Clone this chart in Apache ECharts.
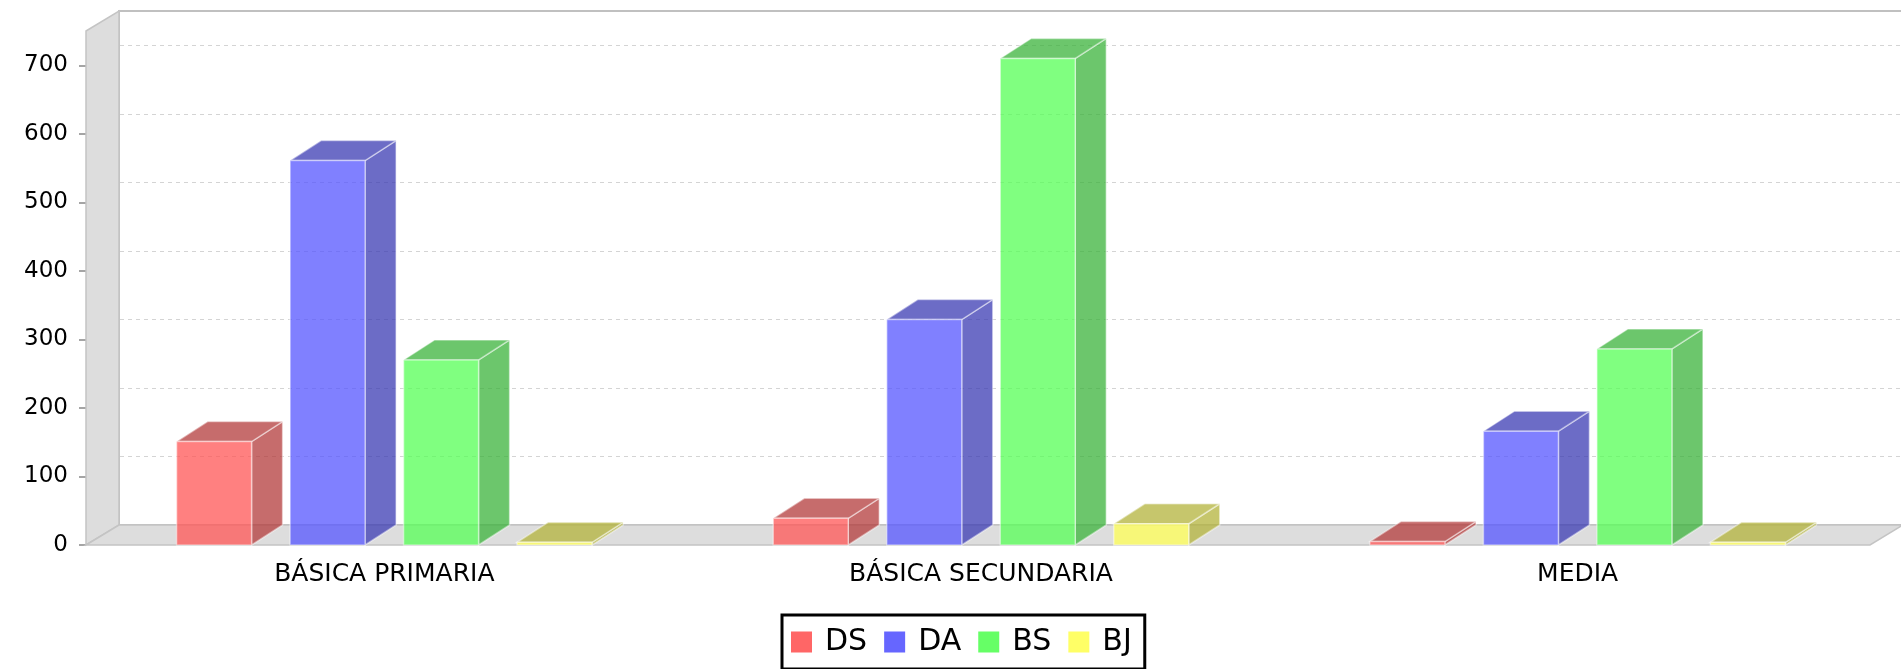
<!DOCTYPE html>
<html>
<head>
<meta charset="utf-8">
<script src="https://cdn.jsdelivr.net/npm/echarts@6/dist/echarts.min.js"></script>
<style>
  html, body { margin: 0; padding: 0; background: #ffffff; }
  #chart { width: 1901px; height: 669px; }
</style>
</head>
<body>
<div id="chart"></div>
<script>
// Levels and counts per group
const categories = ['BÁSICA PRIMARIA', 'BÁSICA SECUNDARIA', 'MEDIA'];
const seriesNames = ['DS', 'DA', 'BS', 'BJ'];
const dsValues = [151, 39, 5];
const daValues = [561, 329, 166];
const bsValues = [270, 710, 286];
const bjValues = [4, 31, 4];
const yTicks = [0, 100, 200, 300, 400, 500, 600, 700];
const yMax = 750;

// base RGB for each series (drawn with 0.75 alpha)
const baseColors = [[255, 85, 85], [85, 85, 255], [85, 255, 85], [255, 255, 85]];

// 3D geometry
const BAR_W = 75;
const BAR_GAP = 38.5;
const BAR_DX = 31, BAR_DY = -20;
const WALL_DX = 33, WALL_DY = -20;
const FLOOR_TRIM = 6;
const FONT = 'DejaVu Sans';

function rgba(c, a, k) {
  k = k || 1;
  return 'rgba(' + Math.round(c[0] * k) + ',' + Math.round(c[1] * k) + ',' + Math.round(c[2] * k) + ',' + a + ')';
}

function makeBarRenderer(s) {
  const col = baseColors[s];
  const face = rgba(col, 0.75);
  const dark = rgba(col, 0.75, 0.7);
  const edge = 'rgba(255,255,255,0.45)';
  return function (params, api) {
    const cat = api.value(0);
    const v = api.value(1);
    const top = api.coord([cat, v]);
    const base = api.coord([cat, 0]);
    const groupW = seriesNames.length * BAR_W + (seriesNames.length - 1) * BAR_GAP;
    const x0 = top[0] - groupW / 2 + s * (BAR_W + BAR_GAP);
    const x1 = x0 + BAR_W;
    const ty = top[1], by = base[1];
    return {
      type: 'group',
      children: [
        {
          type: 'polygon',
          shape: { points: [[x1, ty], [x1 + BAR_DX, ty + BAR_DY], [x1 + BAR_DX, by + BAR_DY], [x1, by]] },
          style: { fill: dark, stroke: edge, lineWidth: 1.5 }
        },
        {
          type: 'polygon',
          shape: { points: [[x0, ty], [x0 + BAR_DX, ty + BAR_DY], [x1 + BAR_DX, ty + BAR_DY], [x1, ty]] },
          style: { fill: dark, stroke: edge, lineWidth: 1.5 }
        },
        {
          type: 'rect',
          shape: { x: x0, y: ty, width: BAR_W, height: by - ty },
          style: { fill: face, stroke: edge, lineWidth: 1.5 }
        }
      ]
    };
  };
}

// left wall, floor, back wall outline and gridlines
function renderWalls(params, api) {
  const cs = params.coordSys;
  const xl = cs.x, xr = cs.x + cs.width - FLOOR_TRIM;
  const yt = cs.y, yb = cs.y + cs.height;
  const wallFill = '#dddddd';
  const wallEdge = '#c4c4c4';
  const children = [
    {
      type: 'rect',
      shape: { x: xl + WALL_DX, y: yt + WALL_DY, width: xr - xl, height: cs.height },
      style: { fill: '#ffffff', stroke: '#c0c0c0', lineWidth: 2 }
    }
  ];
  yTicks.forEach(function (t) {
    if (t === 0) return;
    const y = Math.round(api.coord([0, t])[1] + WALL_DY) + 0.5;
    children.push({
      type: 'line',
      shape: { x1: xl + WALL_DX + 1, y1: y, x2: xr + WALL_DX, y2: y },
      style: { stroke: '#d4d4d4', lineWidth: 1, lineDash: [4, 4] }
    });
  });
  children.push({
    type: 'polygon',
    shape: { points: [[xl, yt], [xl + WALL_DX, yt + WALL_DY], [xl + WALL_DX, yb + WALL_DY], [xl, yb]] },
    style: { fill: wallFill, stroke: wallEdge, lineWidth: 1.5 }
  });
  children.push({
    type: 'polygon',
    shape: { points: [[xl, yb], [xl + WALL_DX, yb + WALL_DY], [xr + WALL_DX, yb + WALL_DY], [xr, yb]] },
    style: { fill: wallFill, stroke: wallEdge, lineWidth: 1.5 }
  });
  return { type: 'group', children: children };
}

const valueLists = [dsValues, daValues, bsValues, bjValues];

const series = [
  {
    type: 'custom',
    name: '__walls',
    silent: true,
    z: 1,
    renderItem: renderWalls,
    data: [[0, 0]],
    encode: { x: 0, y: 1 }
  }
].concat(valueLists.map(function (vals, s) {
  return {
    type: 'custom',
    name: seriesNames[s],
    z: 2,
    renderItem: makeBarRenderer(s),
    itemStyle: { color: rgba(baseColors[s], 1) },
    encode: { x: 0, y: 1 },
    data: vals.map(function (v, i) { return [i, v]; })
  };
}));

const chart = echarts.init(document.getElementById('chart'), null, { renderer: 'canvas' });
chart.setOption({
  animation: false,
  backgroundColor: '#ffffff',
  grid: { left: 86, right: 25, top: 31, bottom: 124, containLabel: false },
  xAxis: {
    type: 'category',
    data: categories,
    boundaryGap: true,
    axisLine: { show: false },
    axisTick: { show: false },
    splitLine: { show: false },
    axisLabel: { fontFamily: FONT, fontSize: 25, color: '#000000', margin: 17 }
  },
  yAxis: {
    type: 'value',
    min: 0,
    max: yMax,
    interval: 100,
    axisLine: { show: false },
    splitLine: { show: false },
    axisTick: {
      show: true, length: 7, customValues: yTicks,
      lineStyle: { color: '#888888', width: 1.5 }
    },
    axisLabel: {
      customValues: yTicks,
      fontFamily: FONT, fontSize: 23, color: '#000000', margin: 18
    }
  },
  legend: {
    data: seriesNames.map(function (n, i) {
      return { name: n, itemStyle: { color: rgba(baseColors[i], 0.9) } };
    }),
    left: 782,
    top: 615,
    orient: 'horizontal',
    icon: 'rect',
    itemWidth: 21,
    itemHeight: 21,
    itemGap: 17,
    padding: [12, 13, 12, 9],
    borderColor: '#000000',
    borderWidth: 3,
    selectedMode: false,
    textStyle: { fontFamily: FONT, fontSize: 30, color: '#000000', padding: [0, 0, 0, 8] }
  },
  series: series
});
</script>
</body>
</html>
